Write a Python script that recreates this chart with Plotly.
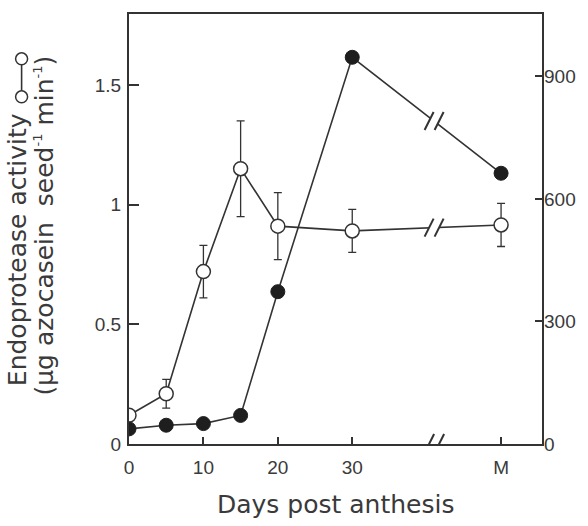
import numpy as np
import plotly.graph_objects as go

# ---------------- data ----------------
day_labels = ["0", "5", "10", "15", "20", "30", "M"]
day_pos = [0, 5, 10, 15, 20, 30, 50]          # M plotted after the axis break
endoprotease = [0.12, 0.21, 0.72, 1.15, 0.91, 0.89, 0.915]   # open circles, left axis
endoprotease_err = [0.0, 0.06, 0.11, 0.20, 0.14, 0.09, 0.09]
second_series = [37, 46, 50, 70, 373, 947, 663]              # filled circles, right axis

x_tickvals = [0, 10, 20, 30, 50]
x_ticktext = ["0", "10", "20", "30", "M"]
y_tickvals = [0, 0.5, 1, 1.5]
y_ticktext = ["0", "0.5", "1", "1.5"]
y2_tickvals = [0, 300, 600, 900]
break_day = 41

# ---------------- layout geometry ----------------
W, H = 588, 526
L, R, T, B = 129, 552, 13, 444
INK = "#333333"
TXT = "#3a3a3a"

def px_x(p):
    return (p - L) / (R - L)

def px_y(p):
    return (B - p) / (B - T)

fig = go.Figure()

# error bars first (so the open circles cover them)
fig.add_trace(go.Scatter(
    x=day_pos, y=endoprotease, mode="markers",
    marker=dict(size=1, color="rgba(0,0,0,0)"),
    error_y=dict(type="data", array=endoprotease_err, visible=True,
                 color=INK, thickness=1.3, width=4),
    hoverinfo="skip", showlegend=False))

fig.add_trace(go.Scatter(
    x=day_pos, y=second_series, yaxis="y2", mode="lines+markers",
    line=dict(color=INK, width=1.6),
    marker=dict(symbol="circle", size=14, color="#1e1e1e",
                line=dict(color="#1e1e1e", width=1)),
    showlegend=False))

fig.add_trace(go.Scatter(
    x=day_pos, y=endoprotease, mode="lines+markers",
    line=dict(color=INK, width=1.6),
    marker=dict(symbol="circle", size=14, color="white",
                line=dict(color=INK, width=1.5)),
    showlegend=False))

# ---------------- break marks ----------------
shapes = []

def break_mark(xref, yref, xa, ya, h, a, sep):
    k = 0.75
    path = (f"M {-sep - a*k},{-h*k} L {-sep + a*k},{h*k} "
            f"L {sep + a*k},{h*k} L {sep - a*k},{-h*k} Z")
    common = dict(xref=xref, yref=yref, xsizemode="pixel", ysizemode="pixel",
                  xanchor=xa, yanchor=ya, layer="above")
    shapes.append(dict(type="path", path=path, fillcolor="white",
                       line=dict(width=0), **common))
    for c in (-sep, sep):
        shapes.append(dict(type="line", x0=c - a, y0=-h, x1=c + a, y1=h,
                           line=dict(color=INK, width=2), **common))

# x-axis break
break_mark("x", "y", break_day, 0, 10, 5, 5)
# line breaks
yb1 = float(np.interp(break_day, [day_pos[5], day_pos[6]], [endoprotease[5], endoprotease[6]]))
yb2 = float(np.interp(break_day, [day_pos[5], day_pos[6]], [second_series[5], second_series[6]]))
break_mark("x", "y", break_day, yb1, 9, 4.5, 5)
break_mark("x", "y2", break_day, yb2, 9, 4.5, 5)

# legend key  o—o  (vertical) beside first title line
kx, ky = px_x(19), px_y(77)
key = dict(xref="paper", yref="paper", xsizemode="pixel", ysizemode="pixel",
           xanchor=kx, yanchor=ky)
shapes.append(dict(type="line", x0=0, y0=-13, x1=0, y1=13,
                   line=dict(color=INK, width=1.6), **key))
for cy in (-19, 19):
    shapes.append(dict(type="circle", x0=-6, x1=6, y0=cy - 6, y1=cy + 6,
                       fillcolor="white", line=dict(color=INK, width=1.5), **key))

# ---------------- titles ----------------
sup = lambda s: f"<sup><span style='font-size:13px'>{s}</span></sup>"
annotations = [
    dict(text="Days post anthesis", xref="paper", yref="paper",
         x=px_x(340), y=px_y(505), xanchor="center", yanchor="middle",
         showarrow=False, font=dict(family="DejaVu Sans", size=25, color=TXT)),
    dict(text="Endoprotease activity", xref="paper", yref="paper",
         x=px_x(15), y=px_y(249), xanchor="center", yanchor="middle",
         textangle=-90, showarrow=False,
         font=dict(family="DejaVu Sans", size=25, color=TXT)),
    dict(text="(\u03bcg azocasein\u00a0\u00a0seed" + sup("-1") + " min" + sup("-1") + ")",
         xref="paper", yref="paper",
         x=px_x(42), y=px_y(225), xanchor="center", yanchor="middle",
         textangle=-90, showarrow=False,
         font=dict(family="DejaVu Sans", size=25, color=TXT)),
]

tickfont = dict(family="Liberation Sans, Arial", size=19, color=TXT)

fig.update_layout(
    width=W, height=H,
    margin=dict(l=L, r=W - R, t=T, b=H - B, pad=0),
    paper_bgcolor="white", plot_bgcolor="white",
    shapes=shapes, annotations=annotations,
    xaxis=dict(range=[0, 55.5], tickvals=x_tickvals, ticktext=x_ticktext,
               ticks="inside", ticklen=7, tickwidth=1.5, tickcolor=INK,
               showline=True, linecolor=INK, linewidth=2, mirror=True,
               showgrid=False, zeroline=False, tickfont=tickfont,
               ticklabelstandoff=5),
    yaxis=dict(range=[0, 1.796], tickvals=y_tickvals, ticktext=y_ticktext,
               ticks="inside", ticklen=10, tickwidth=1.5, tickcolor=INK,
               showline=True, linecolor=INK, linewidth=2, mirror=True,
               showgrid=False, zeroline=False, tickfont=tickfont,
               ticklabelstandoff=2),
    yaxis2=dict(range=[0, 1053], tickvals=y2_tickvals, overlaying="y", side="right",
                ticks="inside", ticklen=7, tickwidth=1.5, tickcolor=INK,
                showline=False, showgrid=False, zeroline=False, tickfont=tickfont,
                ticklabelstandoff=1),
)

fig.write_html("out.html", config={"displayModeBar": False},
               post_script="document.body.style.margin='0';document.body.style.padding='0';")
